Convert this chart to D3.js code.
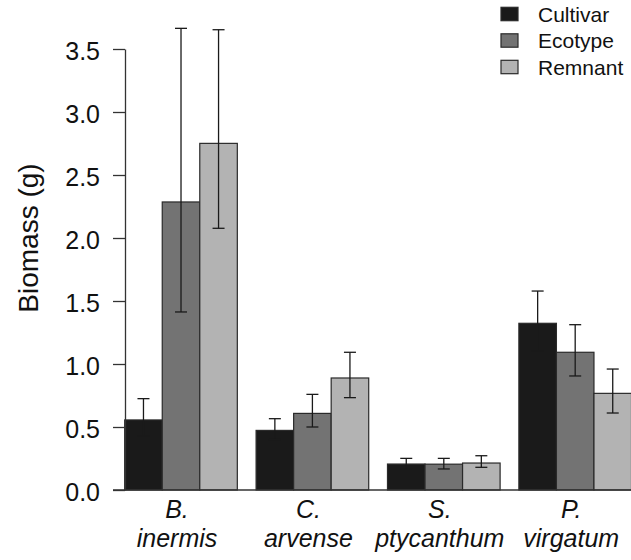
<!DOCTYPE html>
<html>
<head>
<meta charset="utf-8">
<script src="https://cdn.jsdelivr.net/npm/d3@7"></script>
<style>
  html, body { margin: 0; padding: 0; background: #fff; }
  svg { display: block; font-family: "Liberation Sans", Arial, sans-serif; }
</style>
</head>
<body>
<script>
// Species (two-line italic labels) and seed-source series
const species = ["B. inermis", "C. arvense", "S. ptycanthum", "P. virgatum"];
const speciesLines = [["B.", "inermis"], ["C.", "arvense"], ["S.", "ptycanthum"], ["P.", "virgatum"]];
const sources = ["Cultivar", "Ecotype", "Remnant"];

// Mean biomass (g) per species, one array per source
const cultivarMean = [0.556, 0.473, 0.206, 1.323];
const ecotypeMean  = [2.286, 0.608, 0.205, 1.093];
const remnantMean  = [2.751, 0.889, 0.214, 0.767];

// Error bar limits (lower, upper)
const cultivarLow  = [0.429, 0.400, 0.167, 1.103];
const cultivarHigh = [0.725, 0.566, 0.251, 1.579];
const ecotypeLow   = [1.413, 0.500, 0.167, 0.905];
const ecotypeHigh  = [3.664, 0.759, 0.251, 1.312];
const remnantLow   = [2.077, 0.733, 0.180, 0.611];
const remnantHigh  = [3.653, 1.093, 0.272, 0.960];

const yTicks = [0, 0.5, 1.0, 1.5, 2.0, 2.5, 3.0, 3.5];
const fills = ["#1a1a1a", "#737373", "#b3b3b3"];

const means = [cultivarMean, ecotypeMean, remnantMean];
const lows = [cultivarLow, ecotypeLow, remnantLow];
const highs = [cultivarHigh, ecotypeHigh, remnantHigh];

const rows = [];
species.forEach((sp, i) => {
  sources.forEach((src, j) => {
    rows.push({ sp, src, j, mean: means[j][i], lo: lows[j][i], hi: highs[j][i] });
  });
});

const W = 631, H = 560;
const svg = d3.select("body").append("svg").attr("width", W).attr("height", H);

const x = d3.scaleBand().domain(species).range([124.7, 631.5])
  .paddingInner(0.5 / 3.5).paddingOuter(0);
const xs = d3.scaleBand().domain(sources).range([0, x.bandwidth()]).padding(0);
const y = d3.scaleLinear().domain([0, 3.5]).range([490, 49]);

// Bars
svg.append("g").selectAll("rect").data(rows).join("rect")
  .attr("x", d => x(d.sp) + xs(d.src))
  .attr("y", d => y(d.mean))
  .attr("width", xs.bandwidth())
  .attr("height", d => y(0) - y(d.mean))
  .attr("fill", d => fills[d.j])
  .attr("stroke", "#2a2a2a")
  .attr("stroke-width", 1.2);

// Error bars
const eb = svg.append("g").attr("stroke", "#1a1a1a").attr("stroke-width", 1.3);
const cap = 6;
rows.forEach(d => {
  const cx = x(d.sp) + xs(d.src) + xs.bandwidth() / 2;
  eb.append("line").attr("x1", cx).attr("x2", cx).attr("y1", y(d.lo)).attr("y2", y(d.hi));
  eb.append("line").attr("x1", cx - cap).attr("x2", cx + cap).attr("y1", y(d.hi)).attr("y2", y(d.hi));
  eb.append("line").attr("x1", cx - cap).attr("x2", cx + cap).attr("y1", y(d.lo)).attr("y2", y(d.lo));
});

// Baseline across the plotting region
svg.append("line")
  .attr("x1", 113).attr("x2", W)
  .attr("y1", y(0)).attr("y2", y(0))
  .attr("stroke", "#333").attr("stroke-width", 1.3);

// Y axis
const yAxis = svg.append("g").attr("transform", "translate(125,0)")
  .call(d3.axisLeft(y).tickValues(yTicks).tickFormat(d3.format(".1f"))
    .tickSize(12).tickSizeOuter(0).tickPadding(13));
yAxis.select(".domain").attr("stroke", "#333").attr("stroke-width", 1.3);
yAxis.selectAll(".tick line").attr("stroke", "#333").attr("stroke-width", 1.3);
yAxis.selectAll(".tick text")
  .attr("font-family", "Liberation Sans, Arial, sans-serif")
  .attr("font-size", 25).attr("fill", "#111")
  .attr("dy", "0.42em");

// Y title
svg.append("text")
  .attr("transform", "translate(38,238) rotate(-90)")
  .attr("text-anchor", "middle")
  .attr("font-size", 28).attr("fill", "#111")
  .text("Biomass (g)");

// X category labels (two lines, italic)
const xl = svg.append("g");
species.forEach((sp, i) => {
  const cx = x(sp) + x.bandwidth() / 2 - 4;
  const t = xl.append("text").attr("text-anchor", "middle")
    .attr("font-size", 25).attr("font-style", "italic").attr("fill", "#111");
  t.append("tspan").attr("x", cx).attr("y", 517.5).text(speciesLines[i][0]);
  t.append("tspan").attr("x", cx).attr("y", 546.5).text(speciesLines[i][1]);
});

// Legend
const lg = svg.append("g");
const legendY = [14, 40.5, 67];
sources.forEach((src, j) => {
  lg.append("rect").attr("x", 501).attr("y", legendY[j] - 6.7)
    .attr("width", 17).attr("height", 13.4)
    .attr("fill", fills[j]).attr("stroke", "#2a2a2a").attr("stroke-width", 1.2);
  lg.append("text").attr("x", 538).attr("y", legendY[j] + 7.8)
    .attr("font-size", 21).attr("fill", "#111").text(src);
});
</script>
</body>
</html>
